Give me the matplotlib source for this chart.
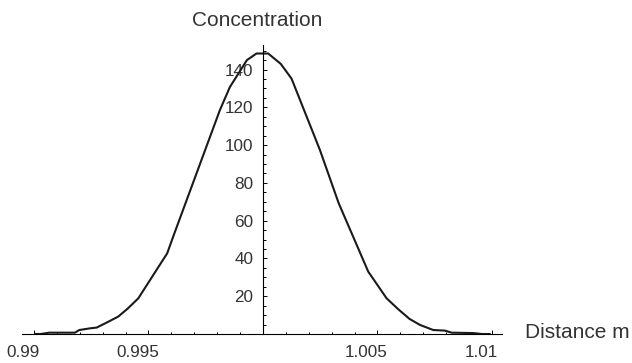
import matplotlib
matplotlib.use('agg')
import matplotlib.pyplot as plt
from matplotlib.ticker import MultipleLocator, FixedLocator
from matplotlib.transforms import ScaledTranslation

# distance (m) and concentration
distance = [0.99007, 0.99030, 0.99067, 0.99179, 0.99198, 0.99245, 0.99274,
            0.99317, 0.99368, 0.99410, 0.99456, 0.99520, 0.99582, 0.99608,
            0.99812, 0.99856, 0.99930, 0.99972, 1.00023, 1.00078, 1.00125,
            1.00249, 1.00331, 1.00460, 1.00540, 1.00592, 1.00640, 1.00686,
            1.00744, 1.00795, 1.00824, 1.00918, 1.00955, 1.00990]
concentration = [0.0, 0.0, 0.7, 0.7, 2.1, 3.0, 3.4,
                 6.0, 9.2, 13.5, 18.9, 31.0, 42.7, 51.5,
                 118.5, 130.8, 145.0, 148.5, 148.5, 143.0, 135.2,
                 97.4, 69.2, 33.0, 18.9, 13.0, 8.0, 4.8,
                 2.1, 1.8, 0.7, 0.5, 0.0, 0.0]

x_major = [0.99, 0.995, 1.0, 1.005, 1.01]
x_labels = ['0.99', '0.995', '', '1.005', '1.01']
y_major = [20, 40, 60, 80, 100, 120, 140]

plt.rcParams['font.family'] = ['Liberation Sans', 'DejaVu Sans']
text_col = '#333333'

fig = plt.figure(figsize=(6.32, 3.63), dpi=100)
ax = fig.add_axes([22 / 632, 1 - 334 / 363, 480 / 632, 289 / 363])

ax.plot(distance, concentration, color='#1a1a1a', lw=1.5, solid_joinstyle='round')

ax.set_xlim(0.98948, 1.01044)
ax.set_ylim(0, 153)

ax.spines['top'].set_visible(False)
ax.spines['right'].set_visible(False)
ax.spines['left'].set_position(('data', 1.0))
for s in ('left', 'bottom'):
    ax.spines[s].set_linewidth(0.8)
    ax.spines[s].set_color('black')

ax.xaxis.set_major_locator(FixedLocator(x_major))
ax.set_xticklabels(x_labels)
ax.xaxis.set_minor_locator(MultipleLocator(0.001))
ax.yaxis.set_major_locator(FixedLocator(y_major))
ax.yaxis.set_minor_locator(MultipleLocator(5))

ax.tick_params(axis='both', which='both', direction='in', colors='black',
               labelcolor=text_col, labelsize=12.3)
ax.tick_params(axis='x', which='major', length=3.2, width=0.7, pad=8)
ax.tick_params(axis='x', which='minor', length=1.6, width=0.7)
ax.tick_params(axis='y', which='major', length=3.2, width=0.7, pad=7)
ax.tick_params(axis='y', which='minor', length=1.8, width=0.7)

# the x tick labels sit a little left of their ticks
shift = ScaledTranslation(-11 / 100, 0, fig.dpi_scale_trans)
for lab in ax.get_xticklabels():
    lab.set_transform(lab.get_transform() + shift)

fig.text(257 / 632, 1 - 21 / 363, 'Concentration', ha='center', va='center',
         fontsize=15, color=text_col)
fig.text(525 / 632, 1 - 332 / 363, 'Distance m', ha='left', va='center',
         fontsize=15, color=text_col)

fig.savefig('out.png', dpi=100)
